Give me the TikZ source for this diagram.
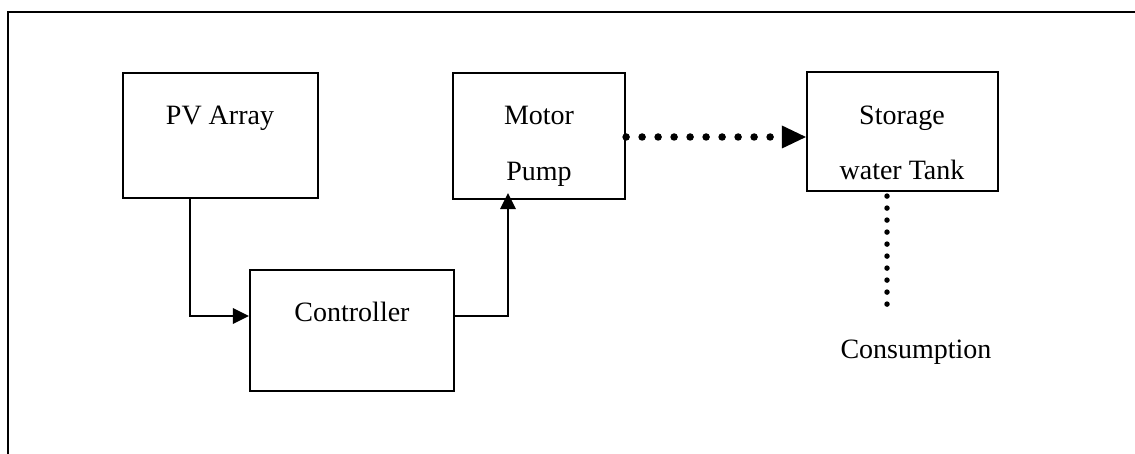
\documentclass[tikz,border=0pt]{standalone}
\usepackage{fontspec}
\setmainfont{Liberation Serif}
\usetikzlibrary{arrows.meta}
\begin{document}
\begin{tikzpicture}[x=1pt,y=-1pt,
  blockbox/.style={draw, line width=2.2pt, minimum width=#1, inner sep=0pt},
  lbl/.style={anchor=base, inner sep=0pt, font=\fontsize{28}{34}\selectfont},
  solidconn/.style={line width=2.2pt, -{Triangle[length=16pt,width=16pt,line width=0pt]}},
  dotconn/.style={line width=7.5pt, line cap=round, dash pattern=on 0pt off 16pt},
  dotconnv/.style={line width=5.5pt, line cap=round, dash pattern=on 0pt off 12pt}]
\useasboundingbox (0,0) rectangle (1135,454);
% frame
\draw[line width=2.2pt] (1135,12) -- (8,12) -- (8,454);
% blocks
\node[blockbox=195pt, minimum height=125pt] (pv) at (220.5,135.5) {};
\node[blockbox=204pt, minimum height=121pt] (ctrl) at (352,330.5) {};
\node[blockbox=172pt, minimum height=126pt] (motor) at (539,136) {};
\node[blockbox=191pt, minimum height=119pt] (store) at (902.5,131.5) {};
% texts
\node[lbl] (tpv) at (220,125) {PV Array};
\node[lbl] (tctrl) at (352,322) {Controller};
\node[lbl] (tmotor) at (539,125) {Motor};
\node[lbl] (tpump) at (539,181) {Pump};
\node[lbl] (tstore) at (902,125) {Storage};
\node[lbl] (ttank) at (902,180) {water Tank};
\node[lbl] (tcons) at (916,358) {Consumption};
\coordinate (consend) at (887,306.5);
% connectors
\draw[solidconn] (pv.south -| 190,0) |- (ctrl.west |- 0,316);
\draw[solidconn, shorten >=-7pt] (ctrl.east |- 0,316) -| (motor.south -| 508,0);
\draw[dotconn, shorten >=22pt] (motor.east |- 0,137) -- (store.west |- 0,137);
\fill (store.west |- 0,137) -- ++(-24,-11.5) -- ++(0,23) -- cycle;
\draw[dotconnv] (store.south -| consend) ++(0,4) -- (consend);
\end{tikzpicture}
\end{document}
